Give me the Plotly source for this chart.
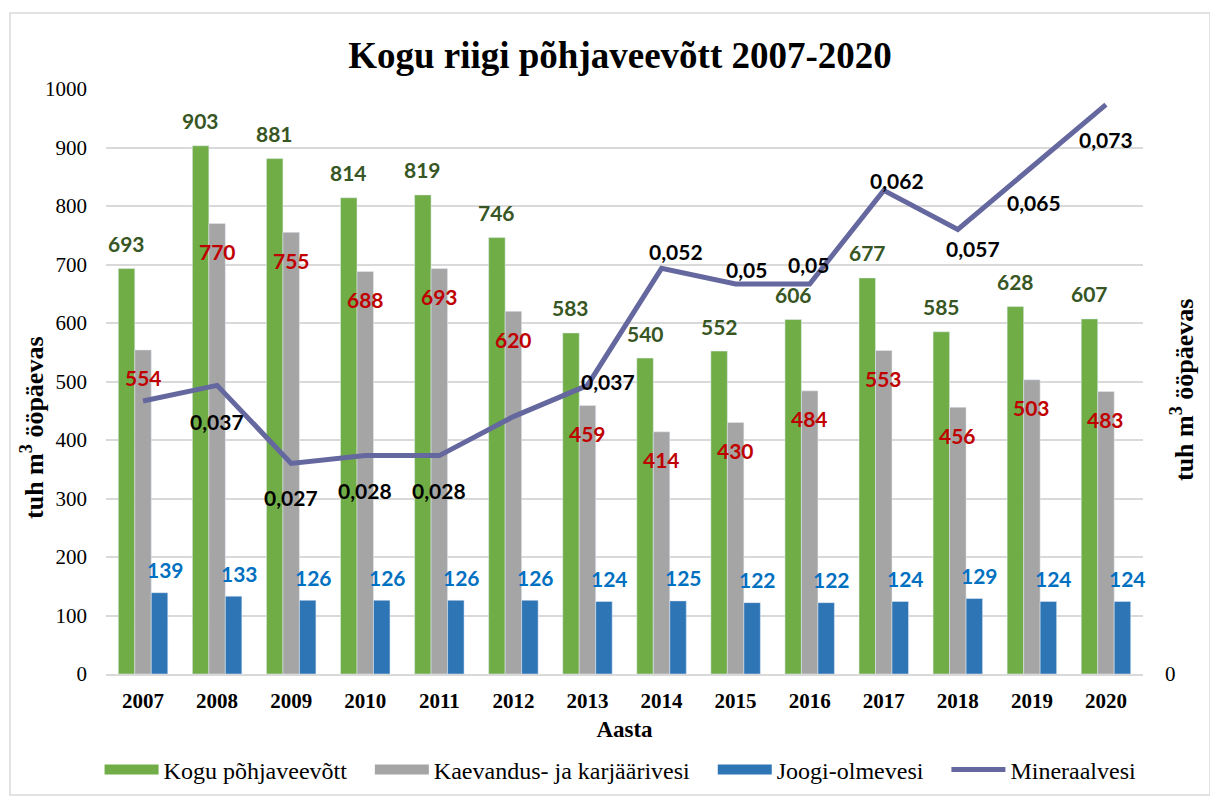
import plotly.graph_objects as go

years = ["2007", "2008", "2009", "2010", "2011", "2012", "2013",
         "2014", "2015", "2016", "2017", "2018", "2019", "2020"]
kogu = [693, 903, 881, 814, 819, 746, 583, 540, 552, 606, 677, 585, 628, 607]
kaevandus = [554, 770, 755, 688, 693, 620, 459, 414, 430, 484, 553, 456, 503, 483]
joogi = [139, 133, 126, 126, 126, 126, 124, 125, 122, 122, 124, 129, 124, 124]
mineraal = [0.035, 0.037, 0.027, 0.028, 0.028, 0.033, 0.037,
            0.052, 0.050, 0.050, 0.062, 0.057, 0.065, 0.073]
mineraal_labels = ["", "0,037", "0,027", "0,028", "0,028", "", "0,037",
                   "0,052", "0,05", "0,05", "0,062", "0,057", "0,065", "0,073"]

series_names = ["Kogu põhjaveevõtt", "Kaevandus- ja karjäärivesi",
                "Joogi-olmevesi", "Mineraalvesi"]

# label placement (pixel offsets, dx, dy-up) for the line labels
line_label_offsets = [(0, 0), (0, -36), (0, -34), (0, -35), (0, -35), (0, 0),
                      (21, 4), (14, 17), (11, 15), (-1, 20), (13, 10),
                      (15, -19), (2, -35), (0, -35)]

GREEN, GRAY, BLUE, LINE = "#70AD47", "#A5A5A5", "#2E75B6", "#65679F"
SERIF = "Liberation Serif"
SANS = "Lato"
PAD = "\u00a0\u00a0\u00a0"  # spacing after legend entries

fig = go.Figure()
bar_specs = [(series_names[0], kogu, GREEN), (series_names[1], kaevandus, GRAY),
             (series_names[2], joogi, BLUE)]
for name, vals, col in bar_specs:
    fig.add_trace(go.Bar(name=name, x=years, y=vals, marker_color=col,
                         legendgroup=name, showlegend=False))
fig.add_trace(go.Scatter(name=series_names[3], x=years, y=mineraal, yaxis="y2",
                         mode="lines", line=dict(color=LINE, width=5),
                         legendgroup=series_names[3], showlegend=False))
# legend entries (wide swatches, as in the original)
for name, vals, col in bar_specs:
    fig.add_trace(go.Scatter(name=name + PAD, x=[None], y=[None], mode="lines",
                             line=dict(color=col, width=12), legendgroup=name))
fig.add_trace(go.Scatter(name=series_names[3], x=[None], y=[None], mode="lines",
                         line=dict(color=LINE, width=5), legendgroup=series_names[3]))

annotations = []
lab_font = dict(family=SANS, size=21, weight="bold")
for i, v in enumerate(kogu):
    annotations.append(dict(x=i, y=v, xref="x", yref="y", text=str(v), showarrow=False,
                            xshift=-16.5, yshift=25, font=dict(lab_font, color="#375623")))
for i, v in enumerate(kaevandus):
    annotations.append(dict(x=i, y=v, xref="x", yref="y", text=str(v), showarrow=False,
                            xshift=0, yshift=-28, font=dict(lab_font, color="#C00000")))
for i, v in enumerate(joogi):
    annotations.append(dict(x=i, y=v, xref="x", yref="y", text=str(v), showarrow=False,
                            xshift=22, yshift=23, font=dict(lab_font, color="#0070C0")))
for i, (v, t, (dx, dy)) in enumerate(zip(mineraal, mineraal_labels, line_label_offsets)):
    if t:
        annotations.append(dict(x=i, y=v, xref="x", yref="y2", text=t, showarrow=False,
                                xshift=dx, yshift=dy, font=dict(lab_font, color="#000000")))

# axis titles
ytitle_font = dict(family=SERIF, size=26, weight="bold", color="#000")
annotations.append(dict(text="tuh m<sup>3</sup> ööpäevas", xref="paper", yref="paper",
                        x=-0.0714, y=0.4205, xanchor="center", yanchor="middle",
                        textangle=-90, showarrow=False, font=ytitle_font))
annotations.append(dict(text="tuh m<sup>3</sup> ööpäevas", xref="paper", yref="paper",
                        x=1.0386, y=0.4855, xanchor="center", yanchor="middle",
                        textangle=-90, showarrow=False, font=ytitle_font))

W, H = 1210, 792  # page body has an 8px margin
fig.update_layout(
    width=W, height=H,
    margin=dict(l=98, r=75, t=81, b=126, autoexpand=False),
    paper_bgcolor="white", plot_bgcolor="white",
    font=dict(family=SERIF, color="#000"),
    title=dict(text="<b>Kogu riigi põhjaveevõtt 2007-2020</b>", x=612 / W,
               xanchor="center", y=1 - 47 / H, yanchor="middle", yref="container",
               font=dict(family=SERIF, size=37, color="#000")),
    barmode="group", bargap=0.332, bargroupgap=0,
    xaxis=dict(type="category", range=[-0.5, len(years) - 0.5], autorange=False,
               showgrid=False, showline=True, linecolor="#d9d9d9",
               linewidth=2, ticks="", ticklabelstandoff=7,
               tickfont=dict(family=SERIF, size=21, weight="bold", color="#000"),
               title=dict(text="Aasta", standoff=9,
                          font=dict(family=SERIF, size=23, weight="bold", color="#000"))),
    yaxis=dict(range=[0, 1000], autorange=False, dtick=100, showgrid=True,
               gridcolor="#d9d9d9", gridwidth=2,
               zeroline=False, ticks="", ticklabelstandoff=18,
               tickfont=dict(family=SERIF, size=21, color="#000")),
    yaxis2=dict(overlaying="y", side="right", range=[0, 0.075], autorange=False,
                showgrid=False, zeroline=False, tickvals=[0], ticktext=["0"], ticks="",
                ticklabelstandoff=21, tickfont=dict(family=SERIF, size=21, color="#000")),
    legend=dict(orientation="h", x=-0.0062, xanchor="left", y=-0.164, yanchor="middle",
                font=dict(family=SERIF, size=24, color="#000"), itemwidth=54,
                traceorder="normal"),
    annotations=annotations,
    shapes=[dict(type="rect", xref="paper", yref="paper", x0=-0.0926, x1=1.0646,
                 y0=-0.2068, y1=1.1299, line=dict(color="#d9d9d9", width=1.5),
                 layer="below")],
)

fig.write_html("out.html")
